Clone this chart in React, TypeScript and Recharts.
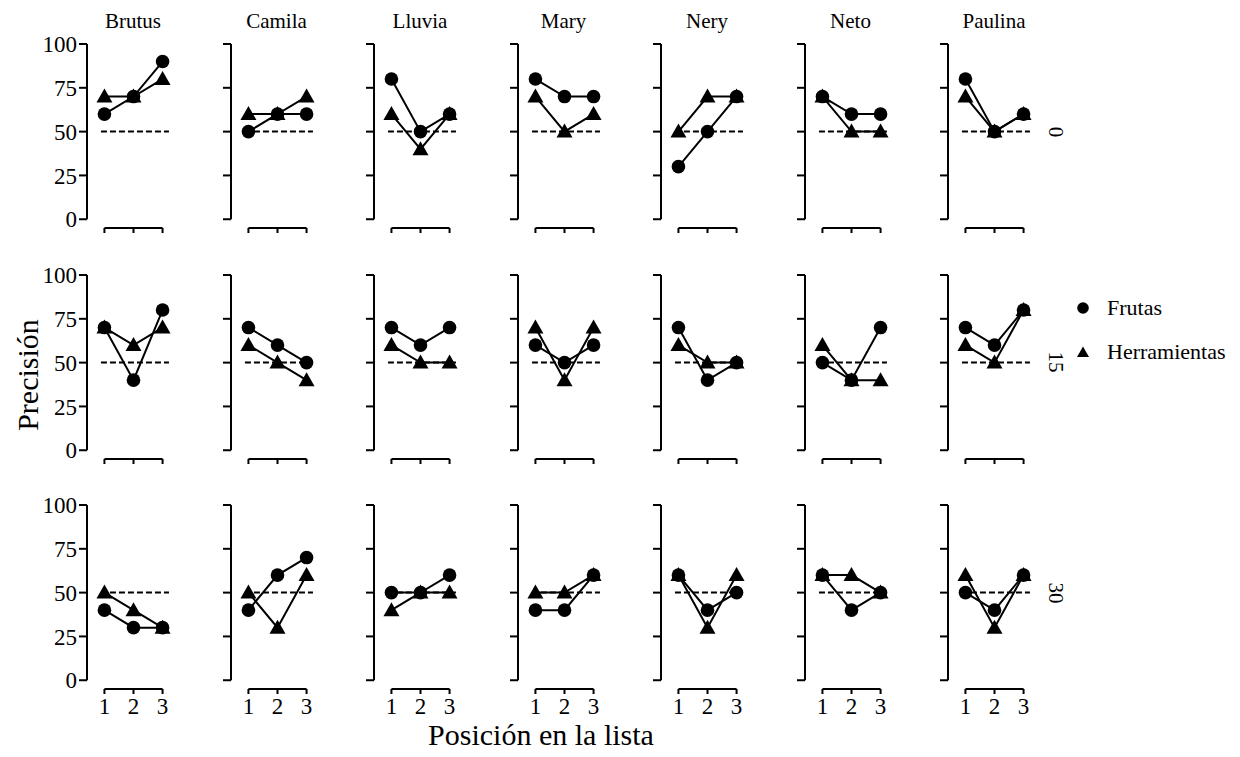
import { LineChart, Line, XAxis, YAxis, ReferenceLine } from 'recharts'

const sujetos = ['Brutus', 'Camila', 'Lluvia', 'Mary', 'Nery', 'Neto', 'Paulina']
const demoras = ['0', '15', '30']
const posiciones = [1, 2, 3]
const yTicks = [0, 25, 50, 75, 100]

// Precisión por sujeto (orden de `sujetos`), posiciones 1..3
const frutas0 = [[60, 70, 90], [50, 60, 60], [80, 50, 60], [80, 70, 70], [30, 50, 70], [70, 60, 60], [80, 50, 60]]
const herramientas0 = [[70, 70, 80], [60, 60, 70], [60, 40, 60], [70, 50, 60], [50, 70, 70], [70, 50, 50], [70, 50, 60]]
const frutas15 = [[70, 40, 80], [70, 60, 50], [70, 60, 70], [60, 50, 60], [70, 40, 50], [50, 40, 70], [70, 60, 80]]
const herramientas15 = [[70, 60, 70], [60, 50, 40], [60, 50, 50], [70, 40, 70], [60, 50, 50], [60, 40, 40], [60, 50, 80]]
const frutas30 = [[40, 30, 30], [40, 60, 70], [50, 50, 60], [40, 40, 60], [60, 40, 50], [60, 40, 50], [50, 40, 60]]
const herramientas30 = [[50, 40, 30], [50, 30, 60], [40, 50, 50], [50, 50, 60], [60, 30, 60], [60, 60, 50], [60, 30, 60]]

const frutas = [frutas0, frutas15, frutas30]
const herramientas = [herramientas0, herramientas15, herramientas30]

const FONT = '"Liberation Serif", serif'

// geometría de los paneles
const Y_AXIS_W = 50
const M_TOP = 12
const M_RIGHT = 6
const X_AXIS_H = 34
const PW = 93
const PH = 184
const COL0 = 87
const COL_STEP = 143.5
const ROW0 = 44
const ROW_STEP = 230.5

const Triangulo = (props: any) => {
  const { cx, cy, index } = props
  if (cx == null || cy == null) return <g key={`t-${index}`} />
  return (
    <path
      key={`t-${index}`}
      d={`M${cx},${cy - 8} L${cx + 8},${cy + 6} L${cx - 8},${cy + 6} Z`}
      fill="#000"
    />
  )
}

function Panel({ fila, col }: { fila: number; col: number }) {
  const fr = frutas[fila][col]
  const he = herramientas[fila][col]
  const data = posiciones.map((p, i) => ({ pos: p, Frutas: fr[i], Herramientas: he[i] }))
  const showY = col === 0
  const showX = fila === 2

  return (
    <div
      style={{
        position: 'absolute',
        left: COL0 + col * COL_STEP - Y_AXIS_W,
        top: ROW0 + fila * ROW_STEP - M_TOP,
      }}
    >
      <LineChart
        width={Y_AXIS_W + PW + M_RIGHT}
        height={M_TOP + PH + X_AXIS_H}
        data={data}
        margin={{ top: M_TOP, right: M_RIGHT, left: 0, bottom: 0 }}
      >
        <XAxis
          dataKey="pos"
          type="number"
          domain={[0.4, 3.6]}
          ticks={posiciones}
          interval={0}
          axisLine={false}
          tickLine={{ stroke: '#000', strokeWidth: 2 }}
          tickSize={5}
          tickMargin={4}
          height={X_AXIS_H}
          tickFormatter={(v) => (showX ? String(v) : '')}
          tick={{ fontSize: 23, fill: '#000', fontFamily: FONT }}
        />
        <YAxis
          type="number"
          domain={[-5, 100]}
          ticks={yTicks}
          interval={0}
          axisLine={false}
          tickLine={{ stroke: '#000', strokeWidth: 2 }}
          tickSize={8}
          tickMargin={2}
          width={Y_AXIS_W}
          tickFormatter={(v) => (showY ? String(v) : '')}
          tick={{ fontSize: 23, fill: '#000', fontFamily: FONT }}
        />
        <ReferenceLine
          segment={[{ x: 0.4, y: 0 }, { x: 0.4, y: 100 }]}
          stroke="#000"
          strokeWidth={2}
        />
        <ReferenceLine
          segment={[{ x: 1, y: -5 }, { x: 3, y: -5 }]}
          stroke="#000"
          strokeWidth={2}
        />
        <ReferenceLine
          segment={[{ x: 0.88, y: 50 }, { x: 3.22, y: 50 }]}
          stroke="#000"
          strokeWidth={2}
          strokeDasharray="6 3"
        />
        <Line
          dataKey="Frutas"
          type="linear"
          stroke="#000"
          strokeWidth={2}
          dot={{ r: 6.8, fill: '#000', stroke: '#000', strokeWidth: 0 }}
          isAnimationActive={false}
        />
        <Line
          dataKey="Herramientas"
          type="linear"
          stroke="#000"
          strokeWidth={2}
          dot={Triangulo}
          isAnimationActive={false}
        />
      </LineChart>
    </div>
  )
}

export default function App() {
  return (
    <div
      style={{
        position: 'absolute',
        left: 0,
        top: 0,
        width: 1240,
        height: 757,
        background: '#fff',
        fontFamily: FONT,
        color: '#000',
        overflow: 'hidden',
      }}
    >
      {/* títulos de columna */}
      {sujetos.map((s, c) => (
        <div
          key={s}
          style={{
            position: 'absolute',
            left: COL0 + c * COL_STEP + 46 - 60,
            width: 120,
            top: 7,
            textAlign: 'center',
            fontSize: 21,
            lineHeight: '28px',
          }}
        >
          {s}
        </div>
      ))}

      {/* etiquetas de fila */}
      {demoras.map((d, r) => (
        <div
          key={d}
          style={{
            position: 'absolute',
            left: 1056,
            top: ROW0 + r * ROW_STEP + 87.5,
            transform: 'translate(-50%, -50%) rotate(90deg)',
            fontSize: 21,
            lineHeight: '24px',
            whiteSpace: 'nowrap',
          }}
        >
          {d}
        </div>
      ))}

      {demoras.map((d, r) =>
        sujetos.map((s, c) => <Panel key={`${d}-${s}`} fila={r} col={c} />)
      )}

      {/* leyenda */}
      <div style={{ position: 'absolute', left: 1076, top: 294, height: 28, display: 'flex', alignItems: 'center' }}>
        <svg width={14} height={14} style={{ marginRight: 17 }}>
          <circle cx={7} cy={7} r={5.8} fill="#000" />
        </svg>
        <span style={{ fontSize: 22, lineHeight: '28px', whiteSpace: 'nowrap' }}>Frutas</span>
      </div>
      <div style={{ position: 'absolute', left: 1076, top: 338, height: 28, display: 'flex', alignItems: 'center' }}>
        <svg width={14} height={14} style={{ marginRight: 17 }}>
          <path d="M7,1.5 L13,12 L1,12 Z" fill="#000" />
        </svg>
        <span style={{ fontSize: 22, lineHeight: '28px', whiteSpace: 'nowrap' }}>Herramientas</span>
      </div>

      {/* títulos de ejes */}
      <div
        style={{
          position: 'absolute',
          left: 28,
          top: 375,
          transform: 'translate(-50%, -50%) rotate(-90deg)',
          fontSize: 30,
          lineHeight: '34px',
          whiteSpace: 'nowrap',
        }}
      >
        Precisión
      </div>
      <div
        style={{
          position: 'absolute',
          left: 541 - 200,
          width: 400,
          top: 718,
          textAlign: 'center',
          fontSize: 30,
          lineHeight: '34px',
          whiteSpace: 'nowrap',
        }}
      >
        Posición en la lista
      </div>
    </div>
  )
}
